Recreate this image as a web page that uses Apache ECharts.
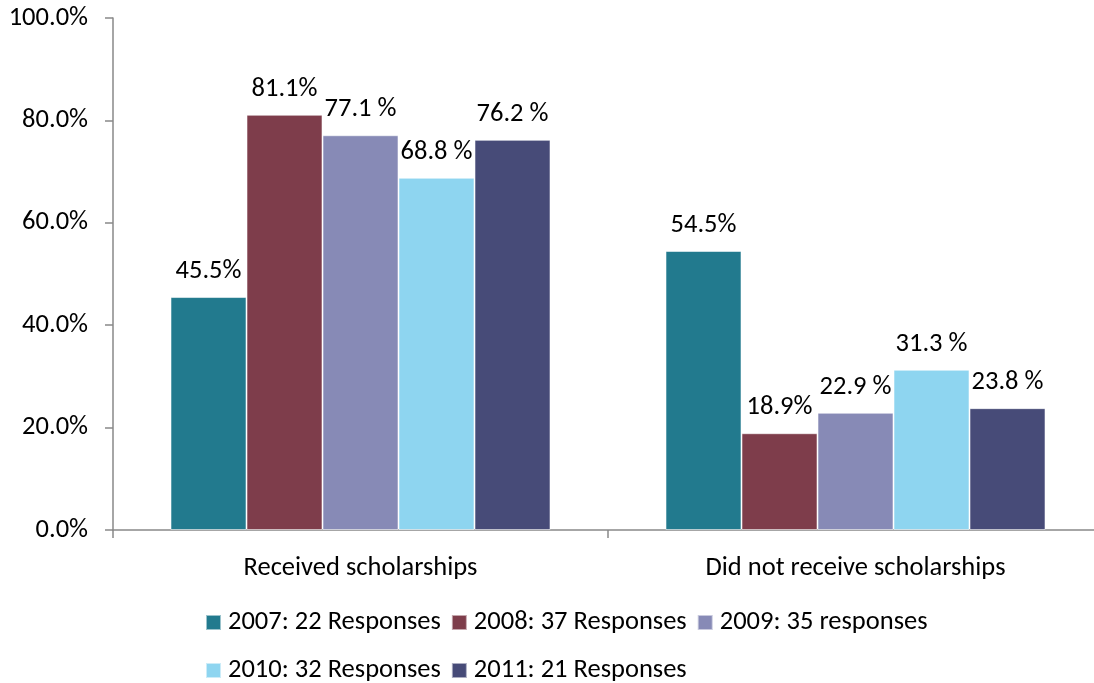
<!DOCTYPE html>
<html>
<head>
<meta charset="utf-8">
<script src="https://cdn.jsdelivr.net/npm/echarts@6/dist/echarts.min.js"></script>
<style>
  html, body { margin: 0; padding: 0; background: #fff; overflow: hidden; }
  /* canvas is a bit wider than the window so the category axis runs off the right edge */
  #chart { width: 1110px; height: 683px; }
</style>
</head>
<body>
<div id="chart"></div>
<script>
// Scholarship survey results by year
const categories = ['Received scholarships', 'Did not receive scholarships'];
const seriesNames = [
  '2007: 22 Responses',
  '2008: 37 Responses',
  '2009: 35 responses',
  '2010: 32 Responses',
  '2011: 21 Responses'
];
const values2007 = [45.5, 54.5];
const values2008 = [81.1, 18.9];
const values2009 = [77.1, 22.9];
const values2010 = [68.8, 31.3];
const values2011 = [76.2, 23.8];
// label suffix per year (some labels carry a space before the % sign)
const labelSuffix = ['%', '%', ' %', ' %', ' %'];
const yTicks = [0, 20, 40, 60, 80, 100];

const colors = ['#227A8E', '#7E3D4B', '#878AB6', '#8ED5F0', '#474B78'];
const allValues = [values2007, values2008, values2009, values2010, values2011];
const FONT = 'Carlito, Lato, sans-serif';
const FS = 26.5;

const chart = echarts.init(document.getElementById('chart'));

const series = allValues.map((vals, i) => ({
  name: seriesNames[i],
  type: 'bar',
  data: vals,
  barWidth: 76,
  barGap: '0%',
  itemStyle: { color: colors[i], borderColor: 'rgba(255,255,255,0.55)', borderWidth: 1 },
  label: {
    show: true,
    position: 'top',
    distance: 12,
    color: '#000',
    fontFamily: FONT,
    fontSize: FS,
    formatter: p => p.value.toFixed(1) + labelSuffix[i]
  }
}));

const legendText = { fontFamily: FONT, fontSize: FS, color: '#000', padding: [0, 0, 0, 2] };
const legendBase = { left: 200, itemWidth: 15, itemHeight: 15, itemGap: 10, icon: 'rect', textStyle: legendText };

chart.setOption({
  animation: false,
  color: colors,
  grid: { left: 113, top: 18, width: 990, height: 512, containLabel: false },
  legend: [
    Object.assign({ data: seriesNames.slice(0, 3), top: 604 }, legendBase),
    Object.assign({ data: seriesNames.slice(3), top: 652 }, legendBase)
  ],
  xAxis: {
    type: 'category',
    data: categories,
    axisLine: { lineStyle: { color: '#898989', width: 1.5 } },
    axisTick: { show: true, length: 8, lineStyle: { color: '#898989', width: 1.5 } },
    axisLabel: { color: '#000', fontFamily: FONT, fontSize: FS, margin: 25 }
  },
  yAxis: {
    type: 'value',
    min: yTicks[0],
    max: yTicks[yTicks.length - 1],
    interval: yTicks[1] - yTicks[0],
    axisLine: { show: true, lineStyle: { color: '#898989', width: 1.5 } },
    axisTick: { show: true, length: 8, lineStyle: { color: '#898989', width: 1.5 } },
    splitLine: { show: false },
    axisLabel: {
      color: '#000', fontFamily: FONT, fontSize: FS, margin: 25,
      formatter: v => v.toFixed(1) + '%'
    }
  },
  series
});
</script>
</body>
</html>
